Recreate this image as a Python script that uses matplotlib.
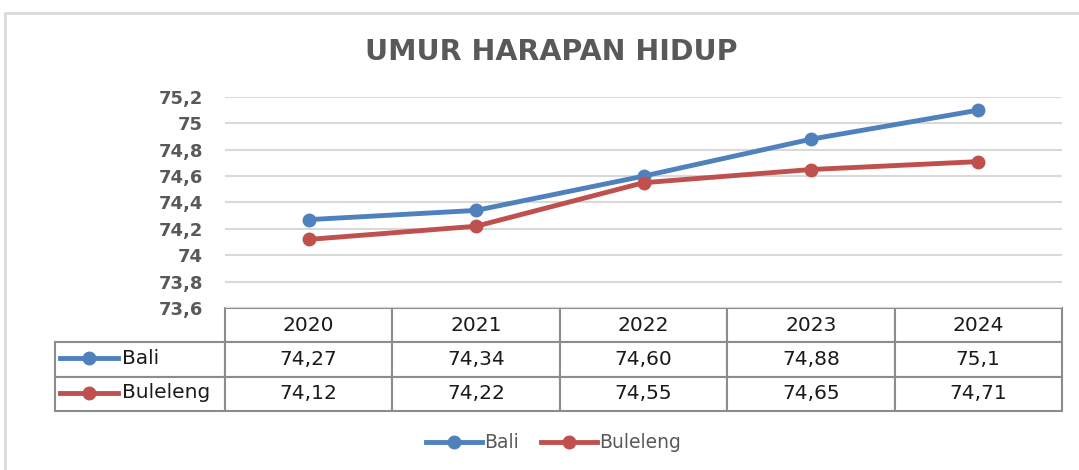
import matplotlib.pyplot as plt
from matplotlib.patches import Rectangle
from matplotlib.ticker import FuncFormatter

years = ['2020', '2021', '2022', '2023', '2024']
bali_text = ['74,27', '74,34', '74,60', '74,88', '75,1']
buleleng_text = ['74,12', '74,22', '74,55', '74,65', '74,71']
bali = [float(s.replace(',', '.')) for s in bali_text]
buleleng = [float(s.replace(',', '.')) for s in buleleng_text]
y_ticks = [73.6, 73.8, 74.0, 74.2, 74.4, 74.6, 74.8, 75.0, 75.2]

blue = '#4F81BD'
red = '#C0504D'
gray_txt = '#595959'

W, H = 1079, 470
fig = plt.figure(figsize=(W / 100, H / 100), dpi=100)

# outer chart border (clipped by image edge on right/bottom)
fig.patches.append(Rectangle((5 / W, -0.1), 1.1, 1 - 13 / H + 0.1, transform=fig.transFigure,
                             fill=False, edgecolor='#D9D9D9', linewidth=2))

ax = fig.add_axes([225 / W, 1 - 308 / H, 837 / W, 211 / H])
x = list(range(len(years)))
ax.plot(x, bali, color=blue, lw=3.5, marker='o', ms=9, label='Bali', zorder=3)
ax.plot(x, buleleng, color=red, lw=3.5, marker='o', ms=9, label='Buleleng', zorder=3)

ax.set_xlim(-0.5, len(years) - 0.5)
ax.set_ylim(73.6, 75.2)
ax.set_yticks(y_ticks)
ax.yaxis.set_major_formatter(FuncFormatter(lambda v, p: ('%g' % round(v, 1)).replace('.', ',')))
ax.tick_params(axis='y', length=0, pad=16, labelsize=13, labelcolor=gray_txt)
for lab in ax.get_yticklabels():
    lab.set_fontweight('bold')
ax.set_xticks([])
ax.grid(axis='y', color='#D9D9D9', lw=1.5)
for s in ax.spines.values():
    s.set_visible(False)

fig.text(0.511, 1 - 52 / H, 'UMUR HARAPAN HIDUP', ha='center', va='center',
         fontsize=20.5, fontweight='bold', color=gray_txt)

# data table under the plot
cell_text = [[''] + years, [''] + bali_text, [''] + buleleng_text]
colw = [170 / 1007] + [167.4 / 1007] * len(years)
tbl = ax.table(cellText=cell_text, colWidths=colw, cellLoc='center',
               bbox=[-170 / 837, -103 / 211, 1007 / 837, 103 / 211])
tbl.auto_set_font_size(False)
tbl.set_fontsize(14.5)
for (r, c), cell in tbl.get_celld().items():
    cell.set_edgecolor('#8C8C8C')
    cell.set_linewidth(1.5)
    cell.get_text().set_color('#1a1a1a')
tbl[(0, 0)].visible_edges = ''

row_y = [-(358 - 308) / 211, -(393 - 308) / 211]
for ry, name, col in zip(row_y, ['Bali', 'Buleleng'], [blue, red]):
    ax.plot([(60 - 225) / 837, (118 - 225) / 837], [ry, ry], color=col, lw=3.5,
            transform=ax.transAxes, clip_on=False)
    ax.plot([(89 - 225) / 837], [ry], 'o', color=col, ms=9,
            transform=ax.transAxes, clip_on=False)
    ax.text((122 - 225) / 837, ry, name, transform=ax.transAxes, ha='left', va='center',
            fontsize=14.5, color='#1a1a1a')

fig.legend(loc='center', bbox_to_anchor=(0.513, 1 - 443 / H), ncol=2, frameon=False,
           fontsize=13.5, labelcolor=gray_txt, handlelength=3.0, handletextpad=0.1,
           columnspacing=1.2)

fig.savefig('out.png', dpi=100)
